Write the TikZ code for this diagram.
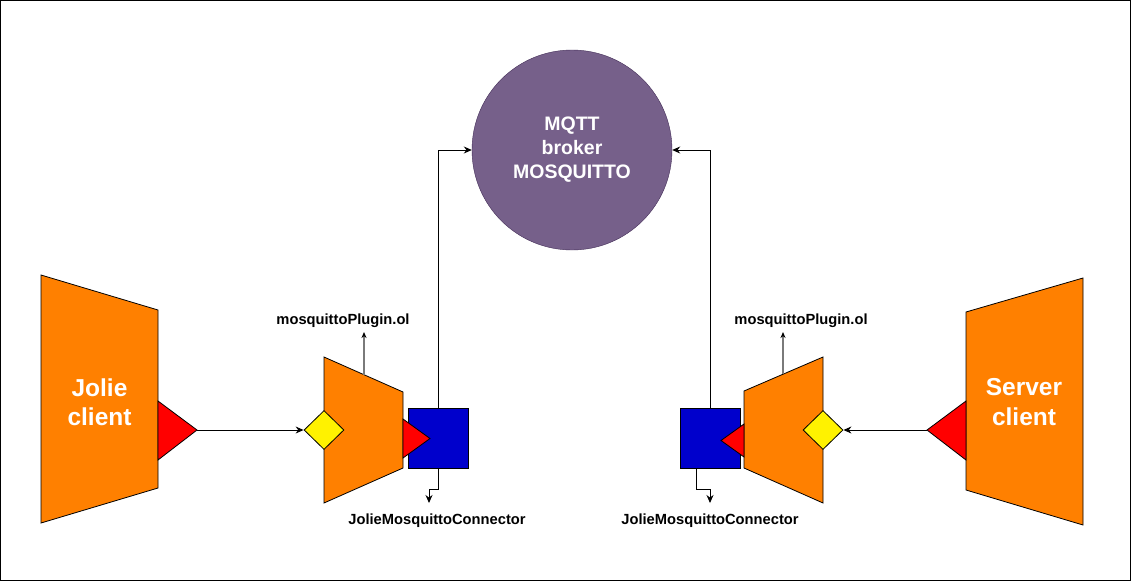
\documentclass[tikz,border=0pt]{standalone}
\usepackage{fontspec}
\setmainfont{Liberation Sans}
\usetikzlibrary{shapes.geometric,arrows.meta}
\definecolor{jorange}{HTML}{FF8000}
\definecolor{jblue}{HTML}{0000CC}
\definecolor{jpurple}{HTML}{76608A}
\definecolor{jpurpledark}{HTML}{432D57}
\definecolor{jgray}{HTML}{7A7A7A}
\tikzset{
  block/.style={draw=black,fill=jorange,line width=0.8pt},
  port/.style={draw=black,fill=red,line width=0.8pt},
  plug/.style={diamond,draw=black,fill=yellow,line width=0.8pt,minimum width=40,minimum height=39,inner sep=0pt},
  connbox/.style={draw=black,fill=jblue,line width=0.8pt,minimum size=60,inner sep=0pt},
  wire/.style={draw=black,line width=1pt,-{Stealth[length=8pt,width=7pt]}},
  graywire/.style={draw=jgray,line width=1.6pt,-{Stealth[length=6pt,width=5pt,color=black]}},
  bigtext/.style={text=white,font=\fontsize{24.5}{29.5}\selectfont\bfseries,align=center},
  smalltext/.style={text=black,font=\fontsize{14.7}{17}\selectfont\bfseries}
}
\begin{document}
\begin{tikzpicture}[x=1pt,y=-1pt]
            \useasboundingbox (0,0) rectangle (1131,581);
            \draw[line width=1pt] (0.5,0.5) rectangle (1130.5,580.5);

            \node[circle,draw=jpurpledark,fill=jpurple,minimum size=200,inner sep=0pt,
                  text=white,font=\fontsize{19.5}{24}\selectfont\bfseries,align=center]
                  (broker) at (572,150) {MQTT\\broker\\MOSQUITTO};

            \draw[block] (41,275) -- (158,310) -- (158,488) -- (41,523) -- cycle;
            \node[bigtext] (jolie) at (99.5,402) {Jolie\\client};
            \draw[port] (158,401) -- (197,430) -- (158,460) -- cycle;
            \coordinate (jolieport) at (197,430);

            \draw[block] (324,357) -- (403,392) -- (403,468) -- (324,503) -- cycle;
            \node[plug] (lplug) at (324,430) {};
            \node[connbox] (lconn) at (438,438) {};
            \draw[port] (403,419) -- (430,438.5) -- (403,458) -- cycle;
            \coordinate (lplugtop) at (364,374.7);
            \coordinate (lplugtip) at (364,332);
            \node[smalltext] (lplugname) at (343,321) {mosquittoPlugin.ol};
            \coordinate (lconnbot) at (438,468);
            \coordinate (lconntip) at (429,503);
            \node[smalltext] (lconnname) at (437,521) {JolieMosquittoConnector};

            \draw[block] (744,391) -- (823,357) -- (823,503) -- (744,468) -- cycle;
            \node[plug] (rplug) at (823,430) {};
            \node[connbox] (rconn) at (710,438) {};
            \draw[port] (744,424) -- (721,440.5) -- (744,457) -- cycle;
            \coordinate (rplugtop) at (783,374.2);
            \coordinate (rplugtip) at (783,332);
            \node[smalltext] (rplugname) at (801,321) {mosquittoPlugin.ol};
            \coordinate (rconnbot) at (696,468);
            \coordinate (rconntip) at (710,503);
            \node[smalltext] (rconnname) at (710,521) {JolieMosquittoConnector};

            \draw[block] (966,312) -- (1083,278) -- (1083,525) -- (966,490) -- cycle;
            \node[bigtext] (server) at (1024,402) {Server\\client};
            \draw[port] (966,401) -- (927,430) -- (966,460) -- cycle;
            \coordinate (serverport) at (927,430);

            \draw[wire] (jolieport) -- (lplug.west);
            \draw[wire] (serverport) -- (rplug.east);
            \draw[wire] (lconn.north) |- (broker.west);
            \draw[wire] (rconn.north) |- (broker.east);
            \draw[graywire] (lplugtop) -- (lplugtip);
            \draw[graywire] (rplugtop) -- (rplugtip);
            \draw[wire] (lconnbot) -- (438,489) -- (429,489) -- (lconntip);
            \draw[wire] (rconnbot) -- (696,489) -- (710,489) -- (rconntip);
\end{tikzpicture}
\end{document}
